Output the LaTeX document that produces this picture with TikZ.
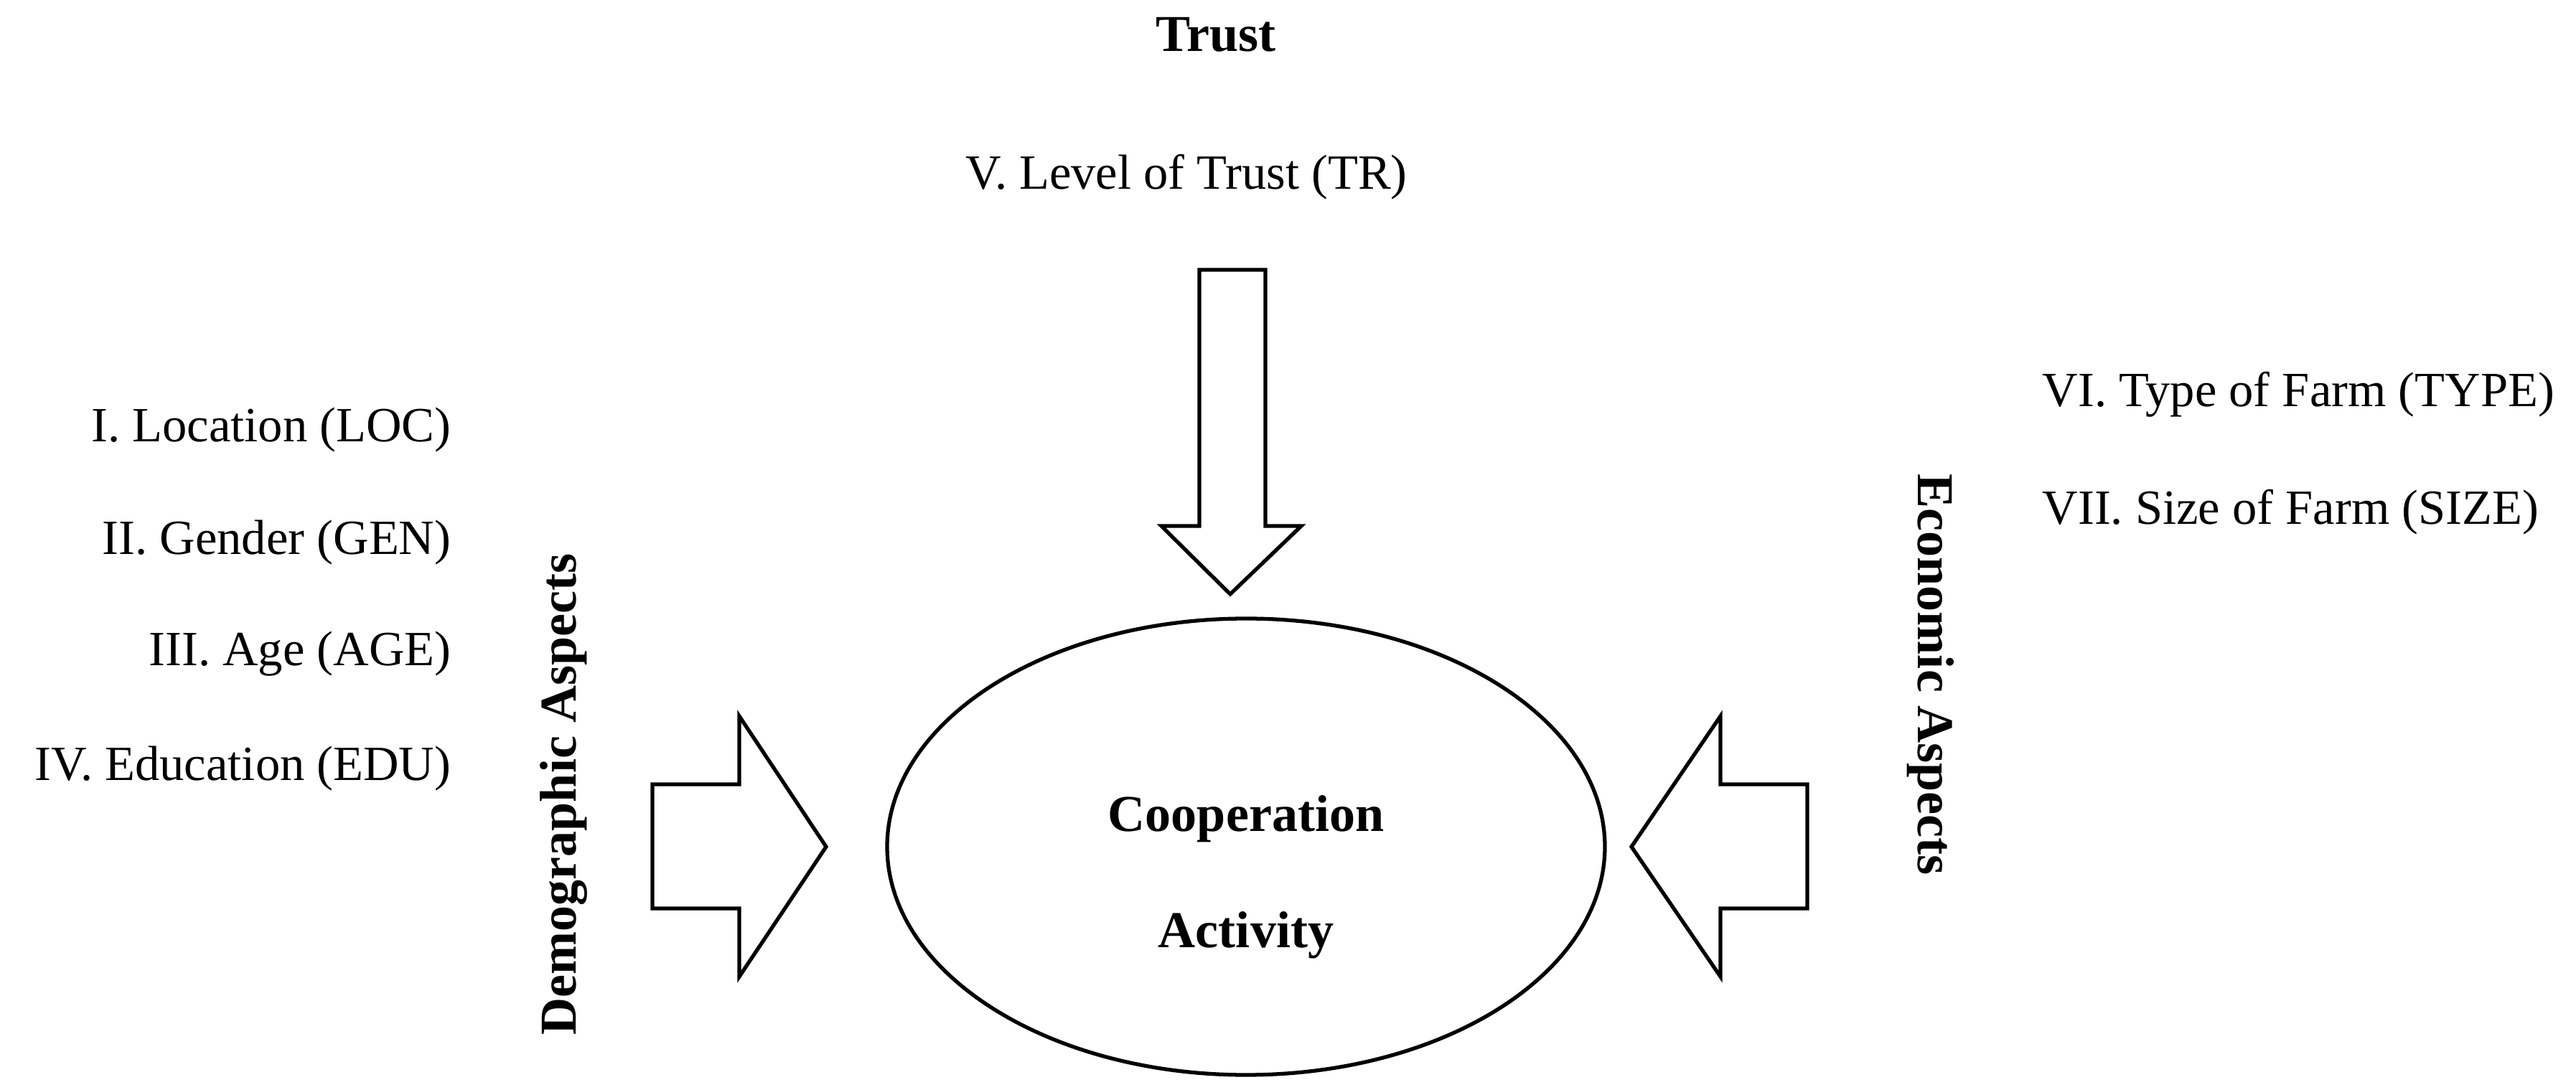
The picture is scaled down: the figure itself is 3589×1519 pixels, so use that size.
\documentclass[tikz,border=0pt]{standalone}
\usepackage{fontspec}
\setmainfont{Liberation Serif}
\usepackage{tikz}
\usetikzlibrary{positioning}
\tikzset{
  lbl/.style={font=\fontsize{19.5}{21}\selectfont, inner sep=0pt},
  hdr/.style={font=\fontsize{20.5}{22}\selectfont\bfseries, inner sep=0pt},
  fat/.style={draw=black, line width=1.5pt, fill=white, line join=miter}
}
\begin{document}
\begin{tikzpicture}[x=0.01cm, y=-0.01cm]
    \useasboundingbox (0,0) rectangle (3589,1519);
    % Centre
    \draw[line width=1.5pt] (1736,1180) ellipse [x radius=500, y radius=318];
    \node[hdr] (coop) at (1736,1141) {Cooperation};
    \node[hdr] (act) at (1736,1303) {Activity};
    % Trust
    \node[hdr] (trust) at (1694,48) {Trust};
    \node[lbl] (tr) at (1653,247) {V. Level of Trust (TR)};
    \draw[fat] (1671,376) -- (1763,376) -- (1763,733) -- (1813,733)
      -- (1714,828) -- (1618,733) -- (1671,733) -- cycle;
    % Demographic
    \node[lbl, anchor=east] (loc) at (629,599) {I. Location (LOC)};
    \node[lbl, anchor=east] (gen) at (629,756) {II. Gender (GEN)};
    \node[lbl, anchor=east] (age) at (629,911) {III. Age (AGE)};
    \node[lbl, anchor=east] (edu) at (629,1071) {IV. Education (EDU)};
    \node[hdr, rotate=90] (demo) at (785,1107) {Demographic Aspects};
    \draw[fat] (909,1093) -- (1030,1093) -- (1030,998) -- (1151,1180)
      -- (1030,1361) -- (1030,1266) -- (909,1266) -- cycle;
    % Economic
    \node[lbl, anchor=west] (type) at (2845,550) {VI. Type of Farm (TYPE)};
    \node[lbl, anchor=west] (size) at (2845,714) {VII. Size of Farm (SIZE)};
    \node[hdr, rotate=-90] (econ) at (2690,940) {Economic Aspects};
    \draw[fat] (2518,1093) -- (2397,1093) -- (2397,998) -- (2273,1180)
      -- (2397,1361) -- (2397,1266) -- (2518,1266) -- cycle;
\end{tikzpicture}
\end{document}
